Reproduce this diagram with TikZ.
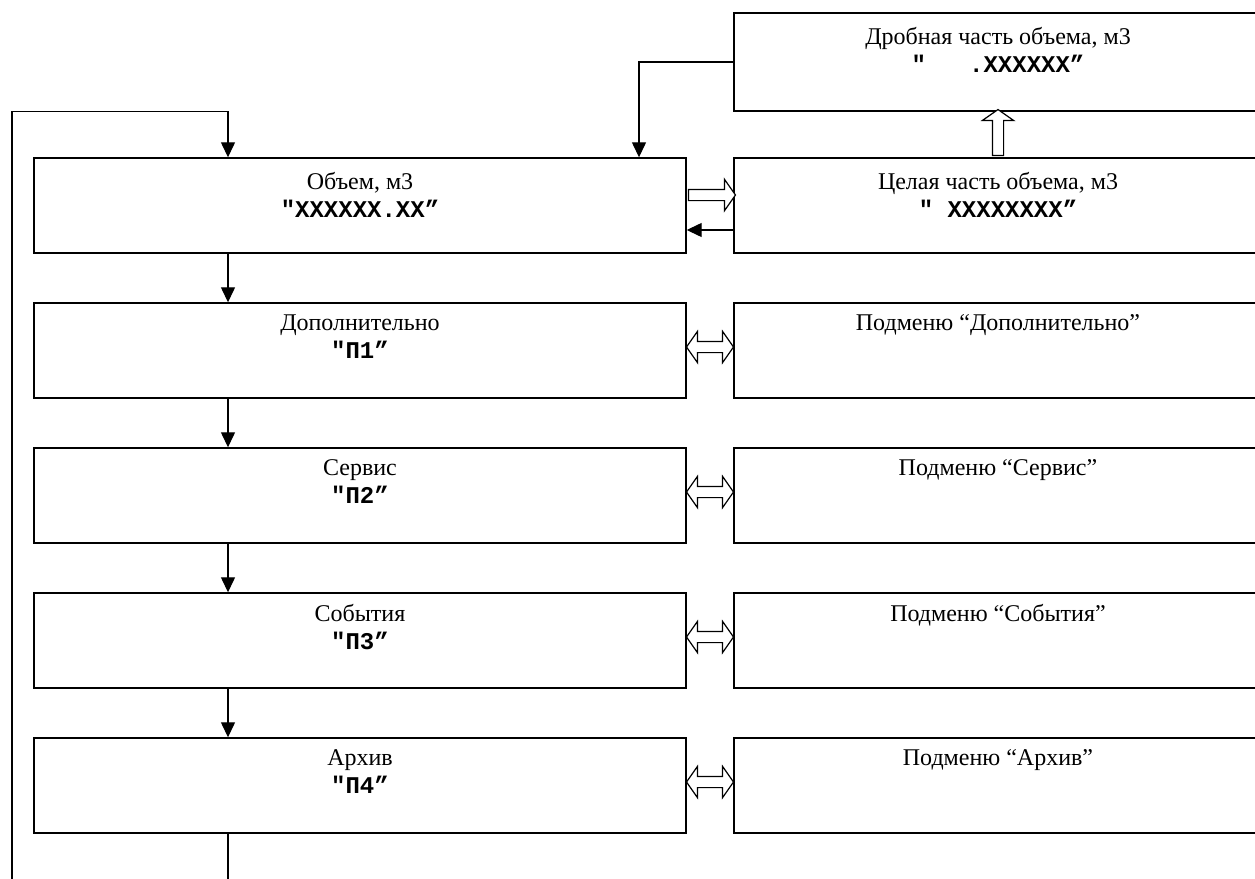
\documentclass[tikz,border=0pt]{standalone}
\usepackage{fontspec}
\setmainfont{Liberation Serif}
\newfontfamily\codefont[Ligatures=TeXOff]{Liberation Mono}
\usetikzlibrary{arrows.meta,shapes.arrows,calc}
\newcommand{\code}[1]{{\codefont\bfseries #1}}
\tikzset{
	menubox/.style={draw,line width=1.4pt,minimum width=652pt,minimum height=95pt,inner sep=0pt},
	subbox/.style={draw,line width=1.4pt,minimum width=528pt,minimum height=95pt,inner sep=0pt},
	boxtext/.style={anchor=north,inner sep=0pt,align=center,yshift=-15pt,font=\fontsize{24}{28}\selectfont},
	flow/.style={line width=1.3pt,-{Triangle[length=15pt,width=14pt]}},
	hollowone/.style={draw,line width=1.2pt,fill=white,single arrow,single arrow head extend=10pt,
		single arrow tip angle=110,minimum height=47pt,inner xsep=0pt,inner ysep=5pt,outer sep=0pt},
	hollowtwo/.style={draw,line width=1.2pt,fill=white,double arrow,double arrow head extend=10pt,
		double arrow tip angle=110,minimum height=47pt,inner xsep=0pt,inner ysep=5pt,outer sep=0pt}
}
\begin{document}
\begin{tikzpicture}[x=1pt,y=-1pt]
	\useasboundingbox (0,0) rectangle (1255,878);
	% volume and its two parts
	\node[menubox] (menu0) at (360,205.5) {};
	\node[boxtext] at (menu0.north) {Объем, м3\\\code{"XXXXXX.XX”}};
	\node[subbox] (whole) at (998,205.5) {};
	\node[boxtext] at (whole.north) {Целая часть объема, м3\\\code{"~XXXXXXXX”}};
	\node[subbox,minimum height=98pt] (frac) at (998,62) {};
	\node[boxtext] at (frac.north) {Дробная часть объема, м3\\\code{"~~~.XXXXXX”}};
	\node[hollowone,yshift=10.5pt] at ($(menu0.east)!.5!(whole.west)$) {};
	\draw[flow] ($(whole.west)+(0,24.5)$) -- ($(menu0.east)+(0,24.5)$);
	\node[hollowone,shape border rotate=90,minimum height=46pt,inner xsep=5pt,inner ysep=0pt]
		at ($(whole.north)!.5!(frac.south)$) {};
	\draw[flow] (frac.west) -| ($(menu0.north)+(279,0)$);
	% menu items and submenus
	\foreach \i/\name in {1/Дополнительно,2/Сервис,3/События,4/Архив} {
		\node[menubox] (menu\i) at (360,205.5+145*\i) {};
		\node[boxtext,yshift=3pt] at (menu\i.north) {\name\\\code{"П\i”}};
		\node[subbox] (sub\i) at (998,205.5+145*\i) {};
		\node[boxtext,yshift=3pt] at (sub\i.north) {Подменю “\name”};
		\node[hollowtwo,yshift=3.5pt] at ($(menu\i.east)!.5!(sub\i.west)$) {};
	}
	\foreach \i [count=\j from 0] in {1,2,3,4}
		\draw[flow] ($(menu\j.south)+(-132,0)$) -- ($(menu\i.north)+(-132,0)$);
	% loop back to the top
	\coordinate (loopstart) at (12,880);
	\coordinate (tailend) at (228,880);
	\coordinate (volin) at ($(menu0.north)+(-132,0)$);
	\draw[flow] (loopstart) |- ($(volin)+(0,-46)$) -- (volin);
	\draw[line width=1.3pt] ($(menu4.south)+(-132,0)$) -- (tailend);
\end{tikzpicture}
\end{document}
